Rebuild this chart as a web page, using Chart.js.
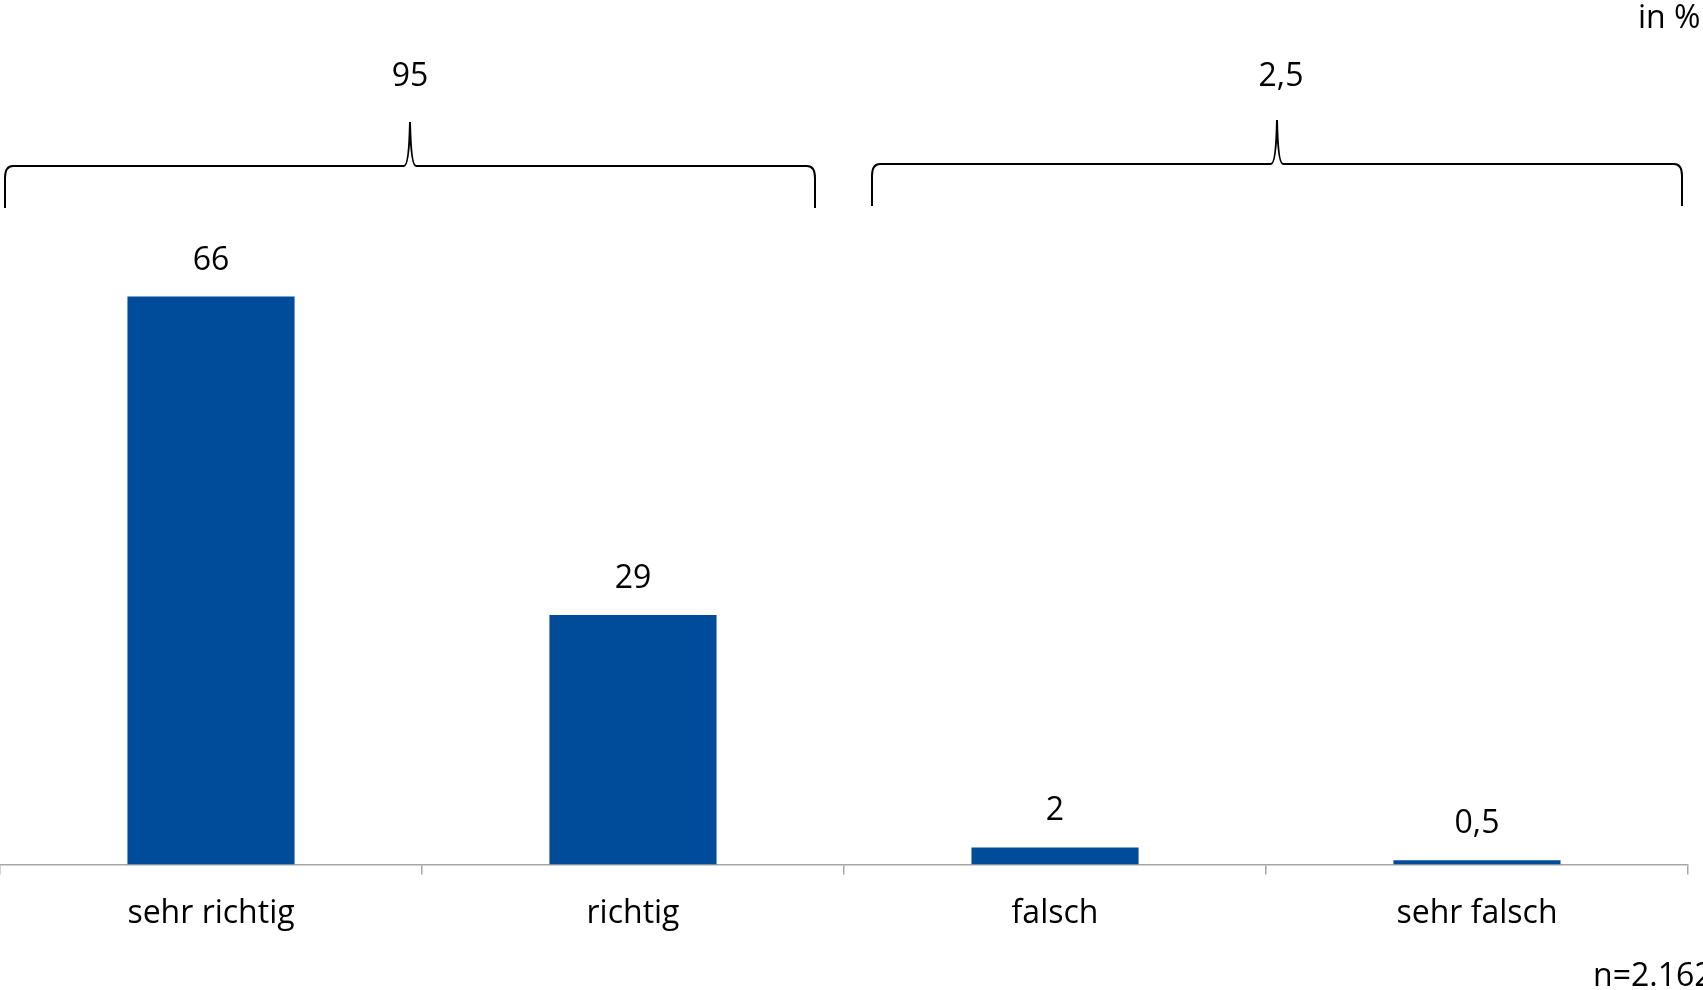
<!DOCTYPE html>
<html>
<head>
<meta charset="utf-8">
<script src="https://cdn.jsdelivr.net/npm/chart.js@4.4.0/dist/chart.umd.min.js"></script>
<style>
    html, body { margin: 0; padding: 0; background: #fff; }
    #wrap { width: 1703px; height: 990px; position: relative; }
</style>
</head>
<body>
<div id="wrap"><canvas id="answerChart" width="1703" height="990"></canvas></div>
<script>
// Data
const CATEGORIES = ['sehr richtig', 'richtig', 'falsch', 'sehr falsch'];
const VALUES = [66, 29, 2, 0.5];
const GROUP_LABELS = ['95', '2,5'];
const GROUP_RANGES = [[0, 1], [2, 3]];
const UNIT_NOTE = 'in %';
const SAMPLE_NOTE = 'n=2.162';

const FONT = '"Open Sans", Lato, sans-serif';
const FONT_SIZE = 32;
const BAR_COLOR = '#004c9a';

// Format number German style
function formatValue(v) {
    return String(v).replace('.', ',');
}

// Value labels above bars
const valueLabels = {
    id: 'valueLabels',
    afterDatasetsDraw: (chart) => {
        const { ctx } = chart;
        const meta = chart.getDatasetMeta(0);
        ctx.save();
        ctx.font = FONT_SIZE + 'px ' + FONT;
        ctx.fillStyle = '#000';
        ctx.textAlign = 'center';
        ctx.textBaseline = 'middle';
        meta.data.forEach((bar, i) => {
            ctx.fillText(formatValue(VALUES[i]), bar.x, bar.y - 36);
        });
        ctx.restore();
    }
};

// Curly braces above groups
const groupBraces = {
    id: 'groupBraces',
    afterDraw: (chart) => {
        const { ctx, scales: { x } } = chart;
        const half = (x.getPixelForValue(1) - x.getPixelForValue(0)) / 2;
        const insets = [[5, -29, 166], [28, -6, 164]];

        ctx.save();
        ctx.strokeStyle = '#000';
        ctx.lineWidth = 2;
        GROUP_RANGES.forEach(([a, b], i) => {
            const x1 = x.getPixelForValue(a) - half + insets[i][0];
            const x2 = x.getPixelForValue(b) + half + insets[i][1];
            const yLine = insets[i][2];
            const yEnd = yLine + 42;
            const mid = (x1 + x2) / 2;
            const r = 8;

            ctx.beginPath();
            ctx.moveTo(x1, yEnd);
            ctx.lineTo(x1, yLine + r * 1.5);
            ctx.quadraticCurveTo(x1, yLine, x1 + r, yLine);
            ctx.lineTo(mid - 6, yLine);
            ctx.quadraticCurveTo(mid - 1, yLine, mid, yLine - 44);
            ctx.quadraticCurveTo(mid + 1, yLine, mid + 6, yLine);
            ctx.lineTo(x2 - r, yLine);
            ctx.quadraticCurveTo(x2, yLine, x2, yLine + r * 1.5);
            ctx.lineTo(x2, yEnd);
            ctx.stroke();

            ctx.font = FONT_SIZE + 'px ' + FONT;
            ctx.fillStyle = '#000';
            ctx.textAlign = 'center';
            ctx.textBaseline = 'middle';
            ctx.fillText(GROUP_LABELS[i], mid + (i === 1 ? 4 : 0), 77);
        });

        // Notes
        ctx.textAlign = 'left';
        ctx.fillText(UNIT_NOTE, 1638, 19);
        ctx.fillText(SAMPLE_NOTE, 1593, 977);
        ctx.restore();
    }
};

const ctx = document.getElementById('answerChart').getContext('2d');
new Chart(ctx, {
    type: 'bar',
    data: {
        labels: CATEGORIES,
        datasets: [{
            data: VALUES,
            backgroundColor: BAR_COLOR,
            borderWidth: 0,
            categoryPercentage: 1,
            barPercentage: 0.396
        }]
    },
    options: {
        responsive: false,
        animation: false,
        layout: {
            padding: { left: 0, right: 15, top: 4, bottom: 37 }
        },
        plugins: {
            legend: { display: false },
            tooltip: { enabled: false }
        },
        scales: {
            x: {
                grid: {
                    offset: true,
                    drawOnChartArea: false,
                    drawTicks: true,
                    tickLength: 10,
                    color: '#a6a6a6',
                    lineWidth: 1.5
                },
                border: { color: '#a6a6a6', width: 1.5 },
                ticks: {
                    color: '#000',
                    padding: 20,
                    font: { family: FONT, size: FONT_SIZE }
                }
            },
            y: {
                display: false,
                min: 0,
                max: 100
            }
        }
    },
    plugins: [valueLabels, groupBraces]
});
</script>
</body>
</html>
